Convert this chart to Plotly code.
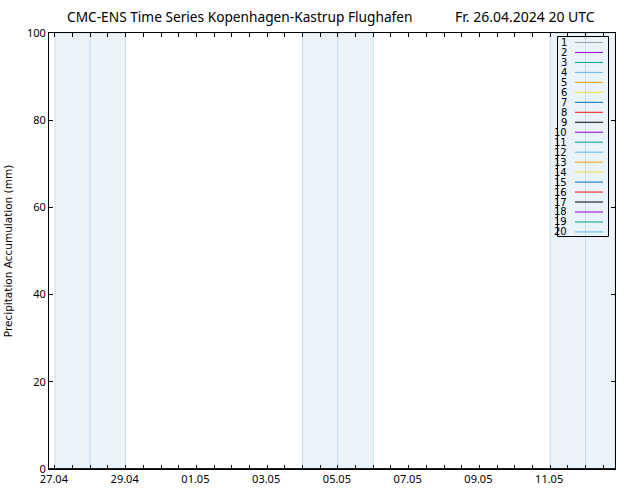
import plotly.graph_objects as go
import pandas as pd

# ---- data ----
run_start = "2024-04-26 20:00"
run_end = "2024-05-12 20:00"
times = pd.date_range(run_start, run_end, freq="6h")
member_names = [str(i) for i in range(1, 21)]
member_colors = ["#a0a0a0", "#9a00d6", "#00a087", "#5ab8ee", "#f0a000", "#f0e040", "#0070b8", "#f01010", "#000000",
                 "#9a00d6", "#00a087", "#5ab8ee", "#f0a000", "#f0e040", "#0070b8", "#f01010", "#000000",
                 "#9a00d6", "#00a087", "#5ab8ee"]
# accumulated precipitation (mm), all members read as 0 over the whole period
precip_mm = [0, 0, 0, 0, 0, 0, 0, 0, 0, 0, 0, 0, 0, 0, 0, 0,
             0, 0, 0, 0, 0, 0, 0, 0, 0, 0, 0, 0, 0, 0, 0, 0,
             0, 0, 0, 0, 0, 0, 0, 0, 0, 0, 0, 0, 0, 0, 0, 0,
             0, 0, 0, 0, 0, 0, 0, 0, 0, 0, 0, 0, 0, 0, 0, 0, 0]
weekend_days = ["2024-04-27", "2024-04-28", "2024-05-04", "2024-05-05", "2024-05-11", "2024-05-12"]
y_ticks = [0, 20, 40, 60, 80, 100]

# ---- layout geometry (pixels) ----
W, H = 634, 490
L, R, T, B = 49, 615, 33, 469
pw, ph = R - L, B - T

def px(x):
    return (x - L) / pw

def py(y):
    return (B - y) / ph

fig = go.Figure()
# draw order: black members last so the zero lines blend with the axis
draw_order = sorted(range(20), key=lambda i: member_colors[i] == "#000000")
for i in draw_order:
    fig.add_trace(go.Scatter(x=times, y=precip_mm, mode="lines", name=member_names[i],
                             line=dict(color=member_colors[i], width=1), showlegend=False))

shapes = []
end_ts = pd.Timestamp(run_end)
for d in weekend_days:
    d0 = pd.Timestamp(d)
    d1 = min(d0 + pd.Timedelta(days=1), end_ts)
    shapes.append(dict(type="rect", xref="x", yref="y", x0=d0, x1=d1, y0=0, y1=100,
                       fillcolor="#eaf2fa", line=dict(color="#c8ddef", width=1), layer="below"))

# manual legend (number left, line right)
shapes.append(dict(type="rect", xref="paper", yref="paper", x0=px(557.5), x1=px(608.5),
                   y0=py(236.5), y1=py(36.5), line=dict(color="black", width=1), fillcolor="rgba(0,0,0,0)"))
annotations = []
for i, (name, col) in enumerate(zip(member_names, member_colors)):
    yy = 42.5 + i * 9.97
    shapes.append(dict(type="line", xref="paper", yref="paper", x0=px(575), x1=px(603),
                       y0=py(yy), y1=py(yy), line=dict(color=col, width=1)))
    annotations.append(dict(text=name, xref="paper", yref="paper", x=px(569), y=py(yy),
                            xanchor="right", yanchor="middle", showarrow=False,
                            font=dict(family="DejaVu Sans", size=10, color="black")))

annotations.append(dict(text="CMC-ENS Time Series Kopenhagen-Kastrup Flughafen", xref="paper", yref="paper",
                        x=px(239), y=py(16), xanchor="center", yanchor="middle", showarrow=False,
                        font=dict(family="Noto Sans", size=13.7, color="black")))
annotations.append(dict(text="Fr. 26.04.2024 20 UTC", xref="paper", yref="paper",
                        x=px(525), y=py(16), xanchor="center", yanchor="middle", showarrow=False,
                        font=dict(family="Noto Sans", size=14, color="black")))

fig.update_layout(
    width=W, height=H,
    margin=dict(l=L, r=W - R, t=T, b=H - B, pad=0, autoexpand=False),
    paper_bgcolor="white", plot_bgcolor="white",
    shapes=shapes, annotations=annotations, showlegend=False,
    font=dict(family="Noto Sans", size=11, color="black"),
)
fig.update_xaxes(
    range=[pd.Timestamp(run_start), end_ts], type="date", automargin=False,
    tick0="2024-04-27", dtick=2 * 86400000, tickformat="%d.%m",
    ticks="inside", ticklen=4, tickcolor="black", tickwidth=1,
    minor=dict(dtick=43200000, tick0="2024-04-27", ticks="inside", ticklen=4, tickcolor="black"),
    showline=True, linecolor="black", linewidth=1, mirror="ticks",
    showgrid=False, zeroline=False, ticklabelshift=-1,
    tickfont=dict(family="Noto Sans", size=11, color="black"),
)
fig.update_yaxes(
    range=[0, 100], tickvals=y_ticks, automargin=False,
    ticks="inside", ticklen=4, tickcolor="black", tickwidth=1,
    showline=True, linecolor="black", linewidth=1, mirror="ticks",
    showgrid=False, zeroline=False,
    tickfont=dict(family="Noto Sans", size=11, color="black"),
    title=dict(text="Precipitation Accumulation (mm)", standoff=12,
               font=dict(family="DejaVu Sans", size=10.5, color="black")),
)

fig.write_html("out.html")
